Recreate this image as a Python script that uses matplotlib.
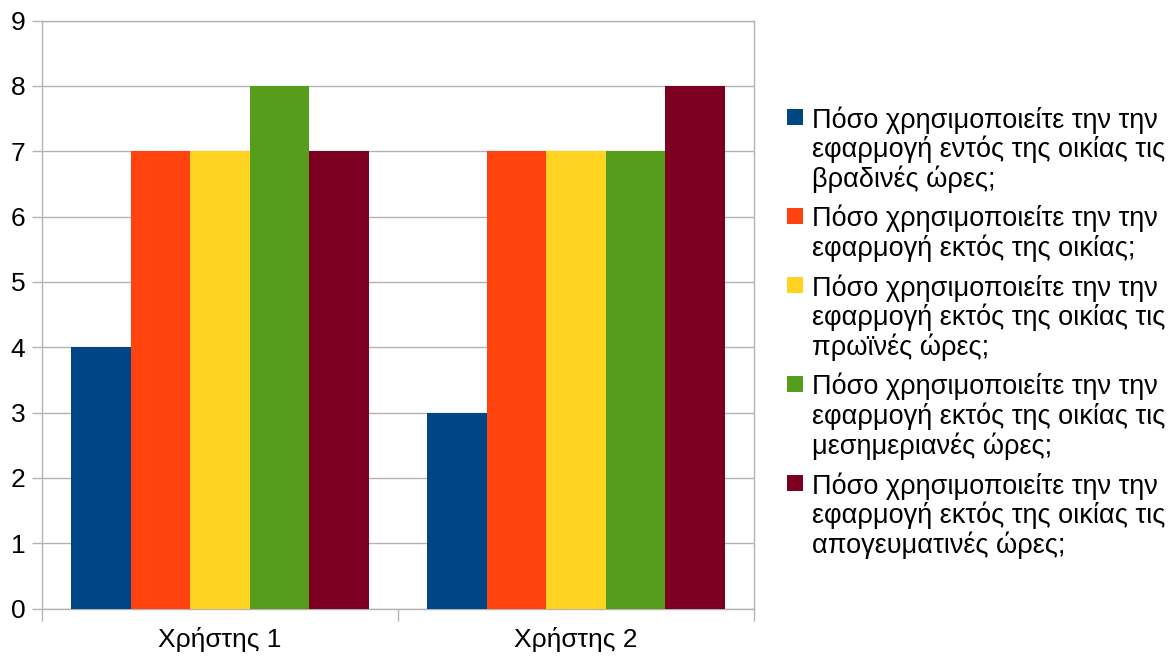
import numpy as np
import matplotlib.pyplot as plt
from matplotlib.patches import Rectangle

plt.rcParams['font.family'] = ['Liberation Sans', 'DejaVu Sans']

users = ['Χρήστης 1', 'Χρήστης 2']
questions = [
    'Πόσο χρησιμοποιείτε την την\nεφαρμογή εντός της οικίας τις\nβραδινές ώρες;',
    'Πόσο χρησιμοποιείτε την την\nεφαρμογή εκτός της οικίας;',
    'Πόσο χρησιμοποιείτε την την\nεφαρμογή εκτός της οικίας τις\nπρωϊνές ώρες;',
    'Πόσο χρησιμοποιείτε την την\nεφαρμογή εκτός της οικίας τις\nμεσημεριανές ώρες;',
    'Πόσο χρησιμοποιείτε την την\nεφαρμογή εκτός της οικίας τις\nαπογευματινές ώρες;',
]
# one list per question, values for user 1 and user 2
answers = [
    [4, 3],
    [7, 7],
    [7, 7],
    [8, 7],
    [7, 8],
]
colors = ['#004586', '#ff420e', '#ffd320', '#579d1c', '#7e0021']

W, H = 1172, 657
fig = plt.figure(figsize=(W / 100, H / 100), dpi=100)
ax = fig.add_axes([42 / W, 1 - 608.5 / H, 712 / W, 588 / H])

x = np.arange(len(users))
bar_w = 0.1675
for i, vals in enumerate(answers):
    offset = (i - 2) * bar_w
    ax.bar(x + offset, vals, width=bar_w, color=colors[i], zorder=3)

ax.set_xlim(-0.5, 1.5)
ax.set_ylim(0, 9)
ax.set_yticks(range(0, 10))
ax.yaxis.grid(True, color='#b3b3b3', linewidth=1)
ax.set_axisbelow(True)

# category borders get the tick marks, names sit in the middle
ax.set_xticks([-0.5, 0.5, 1.5])
ax.set_xticklabels([])
ax.set_xticks(x, minor=True)
ax.set_xticklabels(users, minor=True)
ax.tick_params(axis='x', which='major', length=8.5, color='#b3b3b3', width=1)
ax.tick_params(axis='x', which='minor', length=0, pad=13, labelsize=19)
ax.tick_params(axis='y', length=7, color='#b3b3b3', width=1, pad=5, labelsize=19)

for side in ['left', 'bottom', 'right', 'top']:
    ax.spines[side].set_color('#b3b3b3')
    ax.spines[side].set_linewidth(1)

# legend drawn by hand so the colour box lines up with the first text line
line_h = 30
gap = 9
y = 117
for label, c in zip(questions, colors):
    fig.patches.append(Rectangle((787 / W, 1 - (y + 8) / H), 16 / W, 16 / H,
                                 transform=fig.transFigure, facecolor=c,
                                 edgecolor='none'))
    fig.text(812 / W, 1 - (y - 11) / H, label, fontsize=19.5, va='top', ha='left',
             linespacing=1.107)
    y += label.count('\n') * line_h + line_h + gap

fig.savefig('out.png', dpi=100)
